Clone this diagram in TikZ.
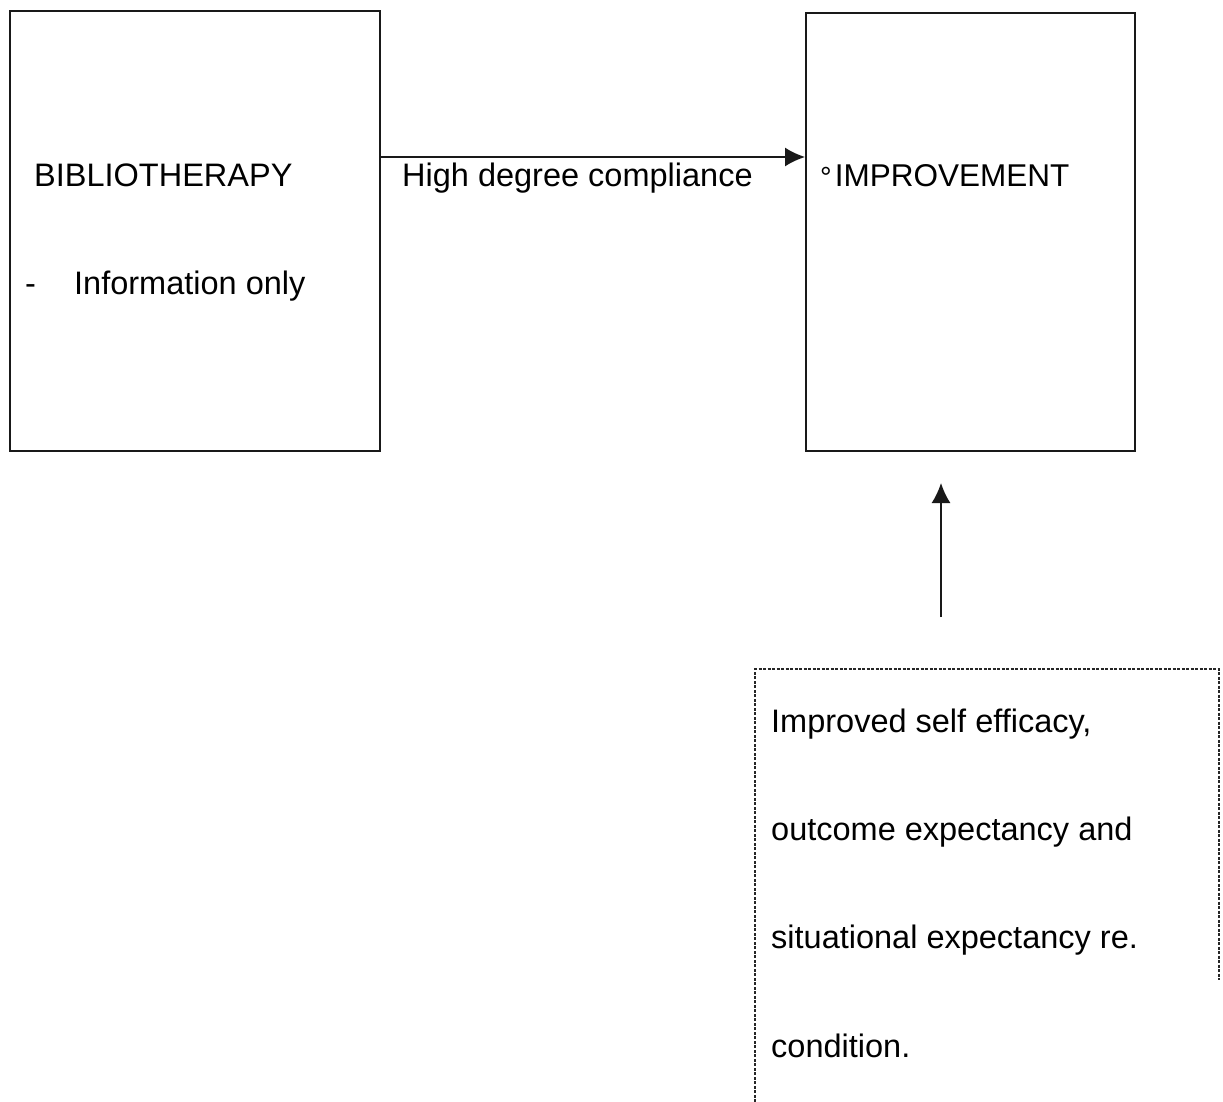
\documentclass[tikz,border=0pt]{standalone}
\usepackage{fontspec}
\setmainfont{Liberation Sans}
\usetikzlibrary{arrows.meta}
\begin{document}
\begin{tikzpicture}[x=1pt,y=-1pt,
  box/.style={draw=black!90, line width=1.6pt, anchor=north west, inner sep=0pt},
  txt/.style={anchor=base west, inner sep=0pt, font=\fontsize{32.5}{38}\selectfont},
  conn/.style={draw=black!90, line width=1.6pt, -{Latex[length=20pt,width=19pt]}},
  dotbox/.style={draw=black!85, line width=1.1pt, dash pattern=on 3pt off 1.5pt}]
\useasboundingbox (0,0) rectangle (1223,1102);

% main boxes
\node[box, minimum width=370pt, minimum height=440pt] (bib) at (9,10) {};
\node[box, minimum width=329pt, minimum height=438pt] (imp) at (805,12) {};

% box contents
\node[txt] (bibtitle) at (34,186) {BIBLIOTHERAPY};
\node[txt] (dash) at (25,294) {-};
\node[txt] (info) at (74,294) {Information only};
\node[txt, font=\fontsize{31.5}{38}\selectfont] (imptitle) at (820,187)
  {\raisebox{-1pt}{\fontsize{29}{29}\selectfont °}\kern3pt IMPROVEMENT};

% compliance link
\coordinate (lvl) at (0,157);
\draw[conn] (bib.east |- lvl) -- (imp.west |- lvl);
\node[txt] (comp) at (402,186) {High degree compliance};

% upward arrow
\coordinate (vtail) at (941,617);
\coordinate (vhead) at (941,483);
\draw[conn] (vtail) -- (vhead);

% dotted box, open at the bottom
\coordinate (dbl) at (755,1102);
\coordinate (dtl) at (755,669);
\coordinate (dtr) at (1219,669);
\coordinate (dbr) at (1219,980);
\draw[dotbox] (dbl) -- (dtl) -- (dtr) -- (dbr);

\node[txt] (l1) at (771,732) {Improved self efficacy,};
\node[txt] (l2) at (771,840) {outcome expectancy and};
\node[txt] (l3) at (771,948) {situational expectancy re.};
\node[txt] (l4) at (771,1057) {condition.};
\end{tikzpicture}
\end{document}
